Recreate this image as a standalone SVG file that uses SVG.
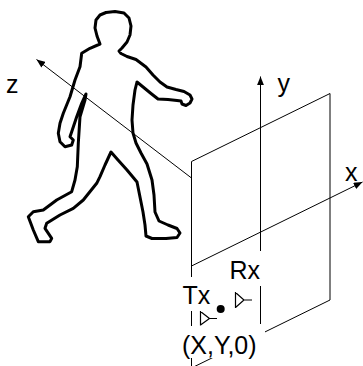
<svg xmlns="http://www.w3.org/2000/svg" width="363" height="366" viewBox="0 0 363 366">
  <style>
    .ln { fill: none; stroke: #000; stroke-width: 1; }
    .fig { fill: none; stroke: #000; stroke-width: 3; stroke-linejoin: round; stroke-linecap: round; }
    .lbl { font-family: "Liberation Sans", Arial, Helvetica, sans-serif; font-size: 25px; fill: #000; }
    .mask { fill: #fff; stroke: none; }
    .sym { fill: none; stroke: #000; stroke-width: 1.2; }
  </style>
  <defs>
    <marker id="arrow" viewBox="0 0 10 8" refX="10" refY="4" markerWidth="9" markerHeight="7" markerUnits="userSpaceOnUse" orient="auto">
      <path d="M0,0 L10,4 L0,8 Z" fill="#000"/>
    </marker>
  </defs>
  <rect width="363" height="366" fill="#fff"/>

  <!-- walking person outline -->
  <g id="person">
    <path class="fig" d="M100,44 L97,36 L95,28 L96,20 L100,15 L106,12.5 L115,11.5 L124,13 L129,18 L131,26 L130,35 L127,42 L122,48 L119,51 L121,53.5 L127,56.5 L136,59.5 L146,67 L153,75 L160,82 L167,87 L176,89.5 L184,91.5 L190,95 L192,99 L190,103 L186,105.5 L182,104 L181,101 L177,100.5 L168,99.5 L158,99 L151,93.5 L137,82 L135,90 L133,105 L132,120 L133,133 L136,143 L141,153 L147,164 L152,180 L154,195 L155,212 L159,221 L168,225 L177,228.5 L180,233 L177,237.5 L166,238.5 L152,238.5 L146,236 L145,225 L143,212 L140,197 L137,182 L127,170 L118,160 L111,152 L105,165 L100,176.7 L96.7,183.3 L83.3,200 L73.3,208.3 L60,215 L46.7,223.3 L45,228.3 L51.7,238.3 L50,241.7 L38.3,241.7 L33.3,230 L28.3,216.7 L33.3,211.7 L43.3,210 L56.7,200 L71.7,191.7 L75,180 L77.3,166.7 L78.3,143.3 L80,116.7 L85,100 L86,94 L81.7,103.3 L76.7,116.7 L71.7,131.7 L70,136.7 L73.3,140 L71.7,145 L65,146.7 L60,141.7 L58.3,133.3 L60,123.3 L63.3,113.3 L70,96.7 L75,80 L80,66.7 L81.7,53.3 L90,48.3 Z"/>
  </g>

  <!-- plane, axes and label backings -->
  <g id="connectors">
    <path class="ln" d="M191.5,161.5 L330,93.5 L330,300 L191.5,368 Z"/>
    <line class="ln" x1="191.5" y1="266" x2="362.5" y2="182" marker-end="url(#arrow)"/>
    <line class="ln" x1="260.5" y1="324" x2="260.5" y2="76.5" marker-end="url(#arrow)"/>
    <line class="ln" x1="191.5" y1="178" x2="36.5" y2="59.5" marker-end="url(#arrow)"/>
  </g>

  <g id="label-z"><text class="lbl" x="6" y="93">z</text></g>
  <g id="label-y"><text class="lbl" x="277.5" y="92">y</text></g>
  <g id="label-x"><text class="lbl" x="345" y="181">x</text></g>

  <g id="rx">
    <rect class="mask" x="228" y="251" width="36" height="35"/>
    <text class="lbl" x="229.5" y="278.5">Rx</text>
    <path class="sym" d="M235.5,292 L235.5,308 M235.5,292.5 L244,300 L235.5,307.5 M244,300 L252,300"/>
  </g>

  <g id="tx">
    <rect class="mask" x="181" y="277" width="33" height="34"/>
    <text class="lbl" x="182.5" y="303.5">Tx</text>
    <path class="sym" d="M200.5,311 L200.5,325.5 M200.5,311.5 L209.5,318.5 L200.5,325 M209.5,318.5 L217,318.5"/>
  </g>

  <g id="point">
    <circle cx="220.7" cy="309" r="4" fill="#000"/>
  </g>

  <g id="coord">
    <rect class="mask" x="181" y="326" width="84" height="32"/>
    <text class="lbl" x="182" y="353.5">(X,Y,0)</text>
  </g>
</svg>
